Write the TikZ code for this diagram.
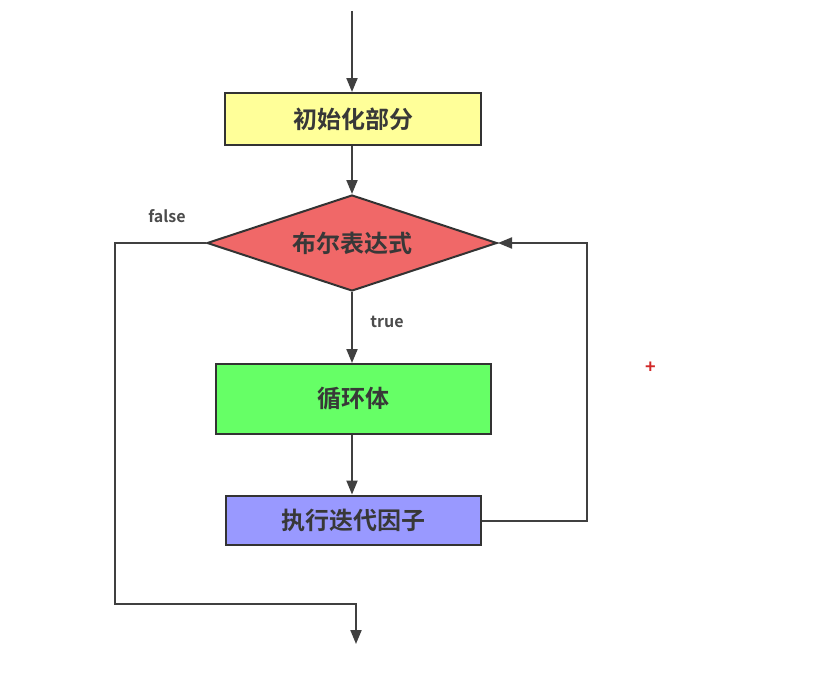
\documentclass[tikz,border=0pt]{standalone}
\usepackage{fontspec}
\setmainfont{Noto Sans}
\newfontfamily\cjk{Noto Sans CJK SC Bold}
\usetikzlibrary{shapes.geometric,arrows.meta}
\begin{document}
\begin{tikzpicture}[x=1pt,y=-1pt,
  flowbox/.style={draw=black!80,line width=2pt,inner sep=0pt,font=\cjk\fontsize{24}{27}\selectfont,text=black!78},
  decision/.style={flowbox,diamond,aspect=3},
  conn/.style={draw=black!75,line width=2pt},
  arr/.style={conn,-{Triangle[length=14pt,width=11pt]}},
  lbl/.style={font=\cjk\fontsize{16}{18}\selectfont,text=black!70}]
\useasboundingbox (0,0) rectangle (834,677);
\fill[white] (0,0) rectangle (834,677);
\node[flowbox,fill={rgb,255:red,255;green,255;blue,153},minimum width=256pt,minimum height=52pt] (init) at (353,119) {初始化部分};
\node[decision,fill={rgb,255:red,240;green,104;blue,104},minimum width=290pt,minimum height=96pt] (cond) at (352,243) {布尔表达式};
\node[flowbox,fill={rgb,255:red,102;green,255;blue,102},minimum width=275pt,minimum height=70pt] (body) at (353,399) {循环体};
\node[flowbox,fill={rgb,255:red,153;green,153;blue,255},minimum width=255pt,minimum height=49pt] (iter) at (353,520) {执行迭代因子};
\coordinate (start) at (352,11);
\coordinate (fl1) at (115,243);
\coordinate (fl2) at (115,604);
\coordinate (fl3) at (356,604);
\coordinate (fend) at (356,644);
\coordinate (rb1) at (587,521);
\coordinate (rb2) at (587,243);
\draw[arr] (start) -- (init.north -| start);
\draw[arr] (init.south -| start) -- (cond.north);
\draw[arr] (cond.south) -- (body.north -| cond.south);
\draw[arr] (body.south -| cond.south) -- (iter.north -| cond.south);
\draw[arr] (cond.west) -- (fl1) -- (fl2) -- (fl3) -- (fend);
\draw[arr] (iter.east |- rb1) -- (rb1) -- (rb2) -- (cond.east);
\node[lbl] (flab) at (167,216) {false};
\node[lbl] (tlab) at (387,322) {true};
\node[text={rgb,255:red,210;green,40;blue,40},font=\cjk\fontsize{18}{18}\selectfont] (plus) at (651,368) {+};
\end{tikzpicture}
\end{document}
